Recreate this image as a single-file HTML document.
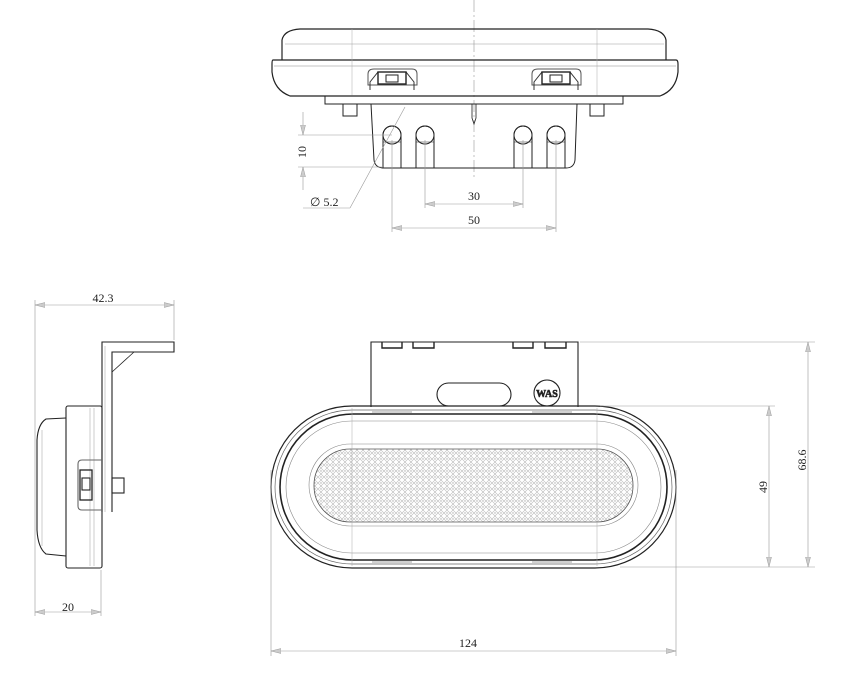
<!DOCTYPE html>
<html><head><meta charset="utf-8"><style>
html,body{margin:0;padding:0;background:#fff;}
svg{display:block;}
text{font-family:"Liberation Serif",serif;font-size:12px;fill:#222;}
</style></head><body>
<svg width="845" height="688" viewBox="0 0 845 688" xmlns="http://www.w3.org/2000/svg">
<defs>
<pattern id="ref" width="6" height="6" patternUnits="userSpaceOnUse">
<path d="M0 3 L3 0 L6 3 L3 6 Z" fill="none" stroke="#bbb" stroke-width="0.6"/>
<circle cx="3" cy="3" r="0.7" fill="#aaa"/>
</pattern>
<marker id="a" markerWidth="10" markerHeight="6" refX="10" refY="3" orient="auto-start-reverse" markerUnits="userSpaceOnUse">
<path d="M0 0.5 L10 3 L0 5.5 Z" fill="#ccc" stroke="#999" stroke-width="0.5"/>
</marker>
</defs>

<g fill="none" stroke="#222" stroke-width="1">
<!-- TOP VIEW -->
<line x1="474" y1="0" x2="474" y2="180" stroke="#999" stroke-width="0.6" stroke-dasharray="12 3 2 3"/>
<path d="M282 60 L282 40 Q284 30 300 29 L648 29 Q664 30 666 40 L666 60" stroke-width="1.2"/>
<line x1="285" y1="44" x2="664" y2="44" stroke="#999" stroke-width="0.6"/>
<path d="M273 60 L676 60 Q678 60 678 64 L678 72 Q676 90 660 96 L290 96 Q274 90 272 72 L272 64 Q272 60 273 60 Z" stroke-width="1.2"/>
<line x1="274" y1="66" x2="676" y2="66" stroke="#888" stroke-width="0.6"/>
<line x1="352" y1="29" x2="352" y2="96" stroke="#aaa" stroke-width="0.5"/>
<line x1="597" y1="29" x2="597" y2="96" stroke="#aaa" stroke-width="0.5"/>
<!-- clips -->
<path d="M368 85 L368 74 Q368 69 374 69 L412 69 Q417 69 417 74 L417 85 Z" stroke="#555"/>
<path d="M370 90 L370 82 L378 72 L406 72 L414 82 L414 90" stroke="#333"/>
<rect x="378" y="72" width="28" height="12" stroke-width="1.4"/>
<rect x="386" y="75" width="12" height="7"/>
<path d="M532 85 L532 74 Q532 69 538 69 L576 69 Q581 69 581 74 L581 85 Z" stroke="#555"/>
<path d="M534 90 L534 82 L542 72 L570 72 L578 82 L578 90" stroke="#333"/>
<rect x="542" y="72" width="28" height="12" stroke-width="1.4"/>
<rect x="550" y="75" width="12" height="7"/>
<rect x="325" y="96" width="298" height="8"/>
<rect x="343" y="104" width="14" height="12"/>
<rect x="590" y="104" width="14" height="12"/>
<path d="M371 104 L374 160 Q375 168 384 168 L566 168 Q574 168 575 160 L577 104"/>
<path d="M472 104 L472 118 L474 124 L476 118 L476 104" stroke-width="0.8"/>
<g>
<path d="M383 168 L383 135 A9 9 0 0 1 401 135 L401 168"/>
<path d="M416 168 L416 135 A9 9 0 0 1 434 135 L434 168"/>
<path d="M514 168 L514 135 A9 9 0 0 1 532 135 L532 168"/>
<path d="M547 168 L547 135 A9 9 0 0 1 565 135 L565 168"/>
<circle cx="392" cy="135" r="9"/>
<circle cx="425" cy="135" r="9"/>
<circle cx="523" cy="135" r="9"/>
<circle cx="556" cy="135" r="9"/>
<line x1="383" y1="142" x2="401" y2="142" stroke-width="0.6"/>
<line x1="416" y1="142" x2="434" y2="142" stroke-width="0.6"/>
<line x1="514" y1="142" x2="532" y2="142" stroke-width="0.6"/>
<line x1="547" y1="142" x2="565" y2="142" stroke-width="0.6"/>
</g>
</g>
<g fill="none" stroke="#999" stroke-width="0.6">
<line x1="298" y1="135" x2="392" y2="135"/>
<line x1="298" y1="167" x2="383" y2="167"/>
<line x1="303" y1="112" x2="303" y2="135" marker-end="url(#a)"/>
<line x1="303" y1="190" x2="303" y2="167" marker-end="url(#a)"/>
<line x1="405" y1="107" x2="350" y2="208"/>
<line x1="303" y1="208" x2="350" y2="208"/>
<line x1="392" y1="140" x2="392" y2="232"/>
<line x1="556" y1="140" x2="556" y2="232"/>
<line x1="425" y1="140" x2="425" y2="208"/>
<line x1="523" y1="140" x2="523" y2="208"/>
<line x1="425" y1="204" x2="523" y2="204" marker-start="url(#a)" marker-end="url(#a)"/>
<line x1="392" y1="228" x2="556" y2="228" marker-start="url(#a)" marker-end="url(#a)"/>
</g>
<text x="300" y="158" transform="rotate(-90 300 152)" text-anchor="middle">10</text>
<text x="310" y="206">∅ 5.2</text>
<text x="474" y="200" text-anchor="middle">30</text>
<text x="474" y="224" text-anchor="middle">50</text>

<!-- SIDE VIEW -->
<g fill="none" stroke="#222" stroke-width="1.1">
<path d="M102 512 L102 342 L174 342 L174 352 L112 352 L112 512"/>
<path d="M112 356 L112 372 L134 352" stroke-width="0.8"/>
<line x1="105" y1="346" x2="105" y2="512" stroke="#999" stroke-width="0.5"/>
<rect x="66" y="406" width="36" height="162" rx="2"/>
<line x1="90" y1="408" x2="90" y2="566" stroke="#999" stroke-width="0.5"/>
<line x1="94" y1="408" x2="94" y2="566" stroke="#999" stroke-width="0.5"/>
<path d="M66 418 L46 419 Q38 424 37 440 L37 530 Q38 548 46 554 L66 556"/>
<line x1="42" y1="430" x2="42" y2="546" stroke="#999" stroke-width="0.5"/>
<path d="M102 460 L82 460 Q78 460 78 464 L78 506 Q78 510 82 510 L102 510" stroke="#666"/>
<rect x="80" y="470" width="12" height="30" stroke-width="1.3"/>
<rect x="82" y="478" width="8" height="12"/>
<rect x="112" y="478" width="12" height="15"/>
</g>
<g fill="none" stroke="#999" stroke-width="0.6">
<line x1="35" y1="300" x2="35" y2="616"/>
<line x1="174" y1="300" x2="174" y2="340"/>
<line x1="101" y1="570" x2="101" y2="616"/>
<line x1="35" y1="305" x2="174" y2="305" marker-start="url(#a)" marker-end="url(#a)"/>
<line x1="35" y1="612" x2="101" y2="612" marker-start="url(#a)" marker-end="url(#a)"/>
</g>
<text x="103" y="302" text-anchor="middle">42.3</text>
<text x="68" y="611" text-anchor="middle">20</text>

<!-- FRONT VIEW -->
<g fill="none" stroke="#222" stroke-width="1.1">
<path d="M371 407 L371 342 L578 342 L578 407"/>
<path d="M382 342 L382 348 L402 348 L402 342 M413 342 L413 348 L434 348 L434 342 M513 342 L513 348 L533 348 L533 342 M545 342 L545 348 L566 348 L566 342" stroke-width="1.4"/>
<rect x="437" y="383" width="74" height="23" rx="11.5"/>
<circle cx="547" cy="393" r="13"/>
<text x="547" y="397" text-anchor="middle" style="font-size:10px;font-weight:bold" fill="none" stroke="#222" stroke-width="0.6">WAS</text>
<rect x="271" y="406" width="405" height="162" rx="81" stroke-width="1.2"/>
<rect x="275" y="410" width="397" height="154" rx="77" stroke="#666" stroke-width="0.7"/>
<rect x="280" y="414" width="387" height="146" rx="73" stroke-width="1.6"/>
<rect x="286" y="421" width="375" height="132" rx="66" stroke="#888" stroke-width="0.6"/>
<rect x="309" y="444" width="329" height="82" rx="41" stroke="#888" stroke-width="0.6"/>
<rect x="314" y="449" width="319" height="73" rx="36" fill="url(#ref)" stroke="#555" stroke-width="0.8"/>
<line x1="352" y1="408" x2="352" y2="566" stroke="#aaa" stroke-width="0.5"/>
<line x1="597" y1="408" x2="597" y2="566" stroke="#aaa" stroke-width="0.5"/>
<path d="M372 412 L412 412 M532 412 L572 412 M372 562 L412 562 M532 562 L572 562" stroke="#888" stroke-width="0.8"/>
</g>
<g fill="none" stroke="#999" stroke-width="0.6">
<line x1="580" y1="342" x2="815" y2="342"/>
<line x1="600" y1="406" x2="775" y2="406"/>
<line x1="620" y1="567" x2="815" y2="567"/>
<line x1="271" y1="470" x2="271" y2="656"/>
<line x1="676" y1="470" x2="676" y2="656"/>
<line x1="769" y1="406" x2="769" y2="567" marker-start="url(#a)" marker-end="url(#a)"/>
<line x1="808" y1="342" x2="808" y2="567" marker-start="url(#a)" marker-end="url(#a)"/>
<line x1="271" y1="651" x2="676" y2="651" marker-start="url(#a)" marker-end="url(#a)"/>
</g>
<text x="763" y="487" transform="rotate(-90 763 487)" text-anchor="middle" dy="4">49</text>
<text x="802" y="460" transform="rotate(-90 802 460)" text-anchor="middle" dy="4">68.6</text>
<text x="468" y="647" text-anchor="middle">124</text>
</svg>
</body></html>
